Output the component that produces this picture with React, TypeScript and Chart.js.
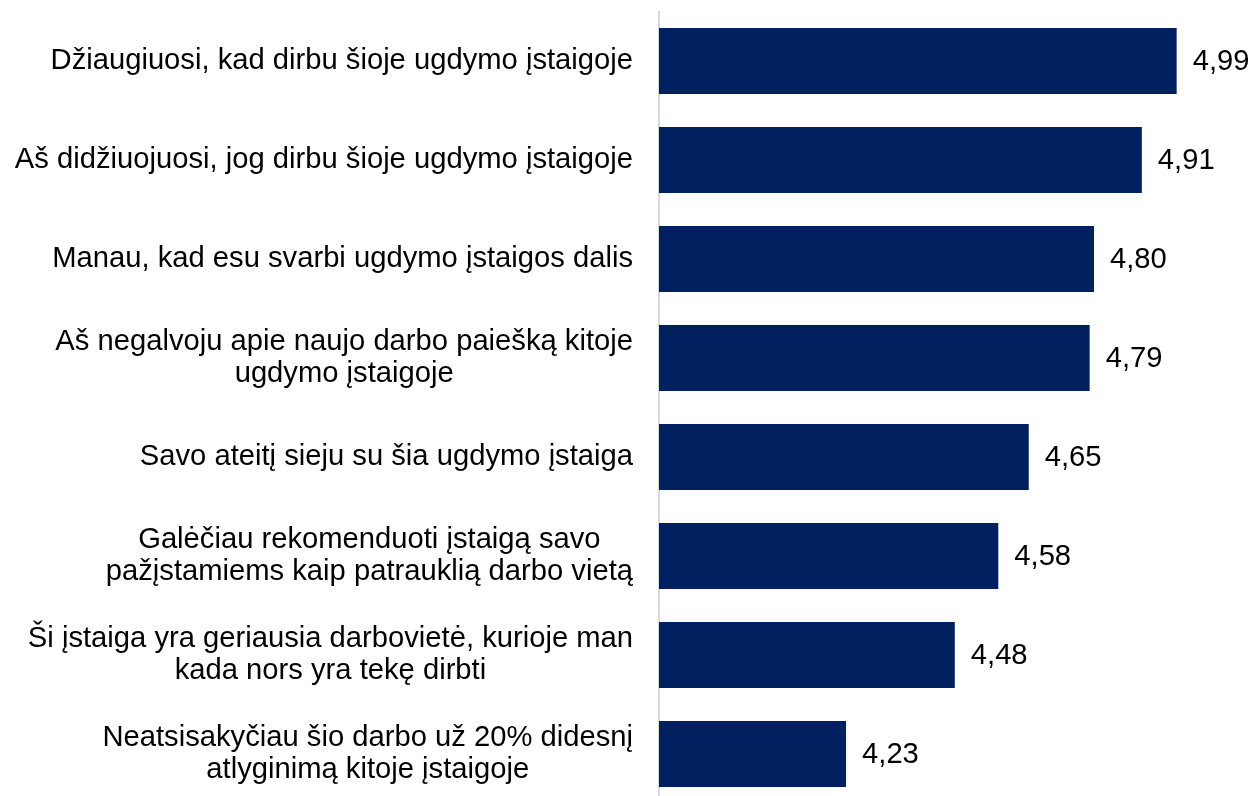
import React, { useEffect, useRef } from "react";
import { Chart, registerables } from "chart.js";

Chart.register(...registerables);

const categories: string[][] = [
  ["Džiaugiuosi, kad dirbu šioje ugdymo įstaigoje"],
  ["Aš didžiuojuosi, jog dirbu šioje ugdymo įstaigoje"],
  ["Manau, kad esu svarbi ugdymo įstaigos dalis"],
  ["Aš negalvoju apie naujo darbo paiešką kitoje", "ugdymo įstaigoje"],
  ["Savo ateitį sieju su šia ugdymo įstaiga"],
  ["Galėčiau rekomenduoti įstaigą savo", "pažįstamiems kaip patrauklią darbo vietą"],
  ["Ši įstaiga yra geriausia darbovietė, kurioje man", "kada nors yra tekę dirbti"],
  ["Neatsisakyčiau šio darbo už 20% didesnį", "atlyginimą kitoje įstaigoje"],
];

const values: number[] = [4.99, 4.91, 4.8, 4.79, 4.65, 4.58, 4.48, 4.23];

const AXIS_MIN = 3.8;
const AXIS_MAX = 5.0;

const FONT = '29.2px "Liberation Sans", Arial, sans-serif';

const labelsPlugin = {
  id: "customLabels",
  afterDraw(chart: any) {
    const { ctx, chartArea } = chart;
    const yScale = chart.scales.y;
    const meta = chart.getDatasetMeta(0);
    ctx.save();
    ctx.font = FONT;
    ctx.fillStyle = "#000000";
    ctx.textBaseline = "middle";
    const lineH = 32;
    const right = chartArea.left - 26;
    categories.forEach((lines, i) => {
      const cy = yScale.getPixelForValue(i);
      const widths = lines.map((l) => ctx.measureText(l).width);
      const maxW = Math.max(...widths);
      const cx = right - maxW / 2;
      ctx.textAlign = "center";
      lines.forEach((l, j) => {
        const y = cy - ((lines.length - 1) * lineH) / 2 + j * lineH;
        ctx.fillText(l, cx, y);
      });
    });
    ctx.textAlign = "left";
    meta.data.forEach((bar: any, i: number) => {
      const txt = values[i].toFixed(2).replace(".", ",");
      ctx.fillText(txt, bar.x + 16, bar.y + 1);
    });
    ctx.restore();
  },
};

export default function App() {
  const ref = useRef<HTMLCanvasElement | null>(null);
  useEffect(() => {
    if (!ref.current) return;
    const chart = new Chart(ref.current, {
      type: "bar",
      data: {
        labels: categories.map((c) => c.join(" ")),
        datasets: [
          {
            data: values,
            backgroundColor: "#002060",
            borderWidth: 0,
            barPercentage: 0.667,
            categoryPercentage: 1,
          },
        ],
      },
      options: {
        indexAxis: "y",
        responsive: false,
        animation: false,
        layout: { padding: { top: 11.5, bottom: 0.5, left: 0, right: 72 } },
        plugins: {
          legend: { display: false },
          tooltip: { enabled: false },
        },
        scales: {
          x: {
            display: false,
            min: AXIS_MIN,
            max: AXIS_MAX,
          },
          y: {
            grid: { display: false },
            border: { display: true, color: "#d9d9d9", width: 2 },
            ticks: { display: false },
            afterFit(scale: any) {
              scale.width = 659;
            },
          },
        },
      },
      plugins: [labelsPlugin],
    });
    return () => chart.destroy();
  }, []);
  return (
    <div
      style={{
        position: "fixed",
        left: 0,
        top: 0,
        width: 1253,
        height: 796,
        overflow: "hidden",
        background: "#ffffff",
      }}
    >
      <canvas ref={ref} width={1253} height={804} style={{ display: "block" }} />
    </div>
  );
}
